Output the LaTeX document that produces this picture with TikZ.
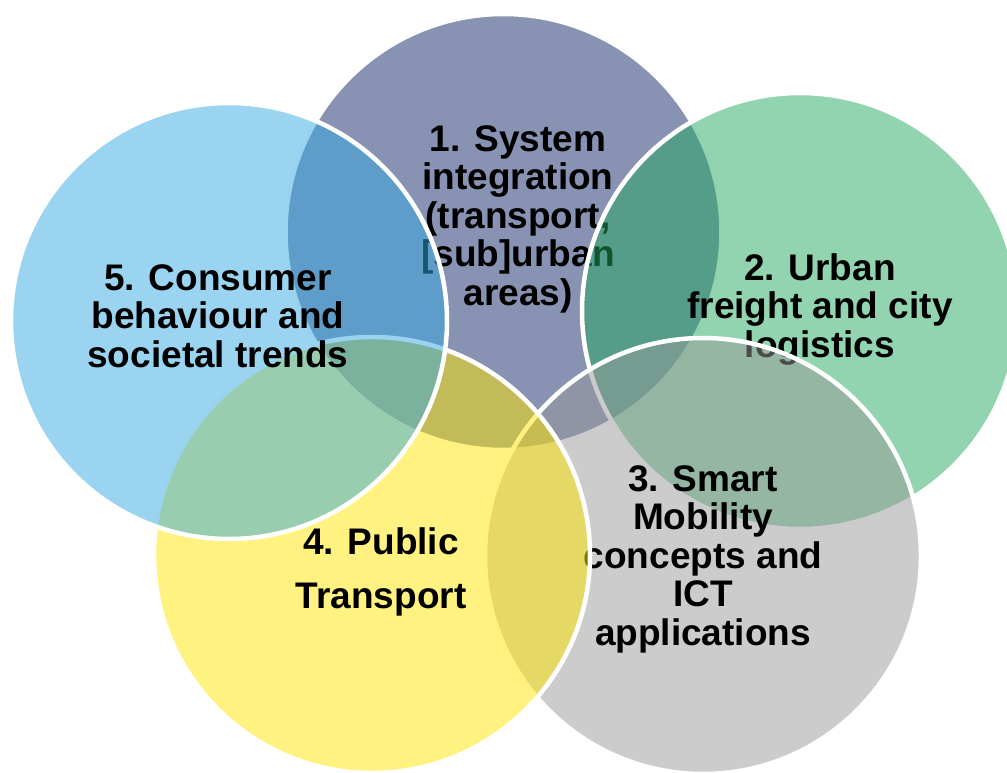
\documentclass[tikz,border=0pt]{standalone}
\usepackage{fontspec}
\setmainfont{Liberation Sans}
\definecolor{cA}{RGB}{17,37,101}
\definecolor{cB}{RGB}{35,169,95}
\definecolor{cC}{RGB}{153,153,153}
\definecolor{cD}{RGB}{255,229,1}
\definecolor{cE}{RGB}{53,169,225}
\tikzset{
  venn/.style={circle, minimum size=436pt, inner sep=0pt, draw=white, line width=4.5pt, fill opacity=0.5, draw opacity=1},
  lbl/.style={anchor=base, align=center, inner sep=0pt, text=black, font=\bfseries\fontsize{37}{38.5}\selectfont}
}
\begin{document}
\begin{tikzpicture}[x=1pt,y=-1pt]
\useasboundingbox (0,0) rectangle (1007,773);
\clip (0,0) rectangle (1007,773);
\node[venn, fill=cA] (c1) at (503.5,232) {};
\node[lbl] (t1) at (518,305) {1. System\\integration\\(transport,\\{[}sub{]}urban\\areas)};
\node[venn, fill=cB] (c2) at (800,311) {};
\node[lbl] (t2) at (820,357) {2. Urban\\freight and city\\logistics};
\node[venn, fill=cC] (c3) at (703,556) {};
\node[lbl] (t3) at (703,645) {3. Smart\\Mobility\\concepts and\\ICT\\applications};
\node[venn, fill=cD] (c4) at (372,555) {};
\node[lbl, font=\bfseries\fontsize{37}{54}\selectfont] (t4) at (381,608) {4. Public\\Transport};
\node[venn, fill=cE] (c5) at (229,321) {};
\node[lbl] (t5) at (218,367) {5. Consumer\\behaviour and\\societal trends};
\end{tikzpicture}
\end{document}
